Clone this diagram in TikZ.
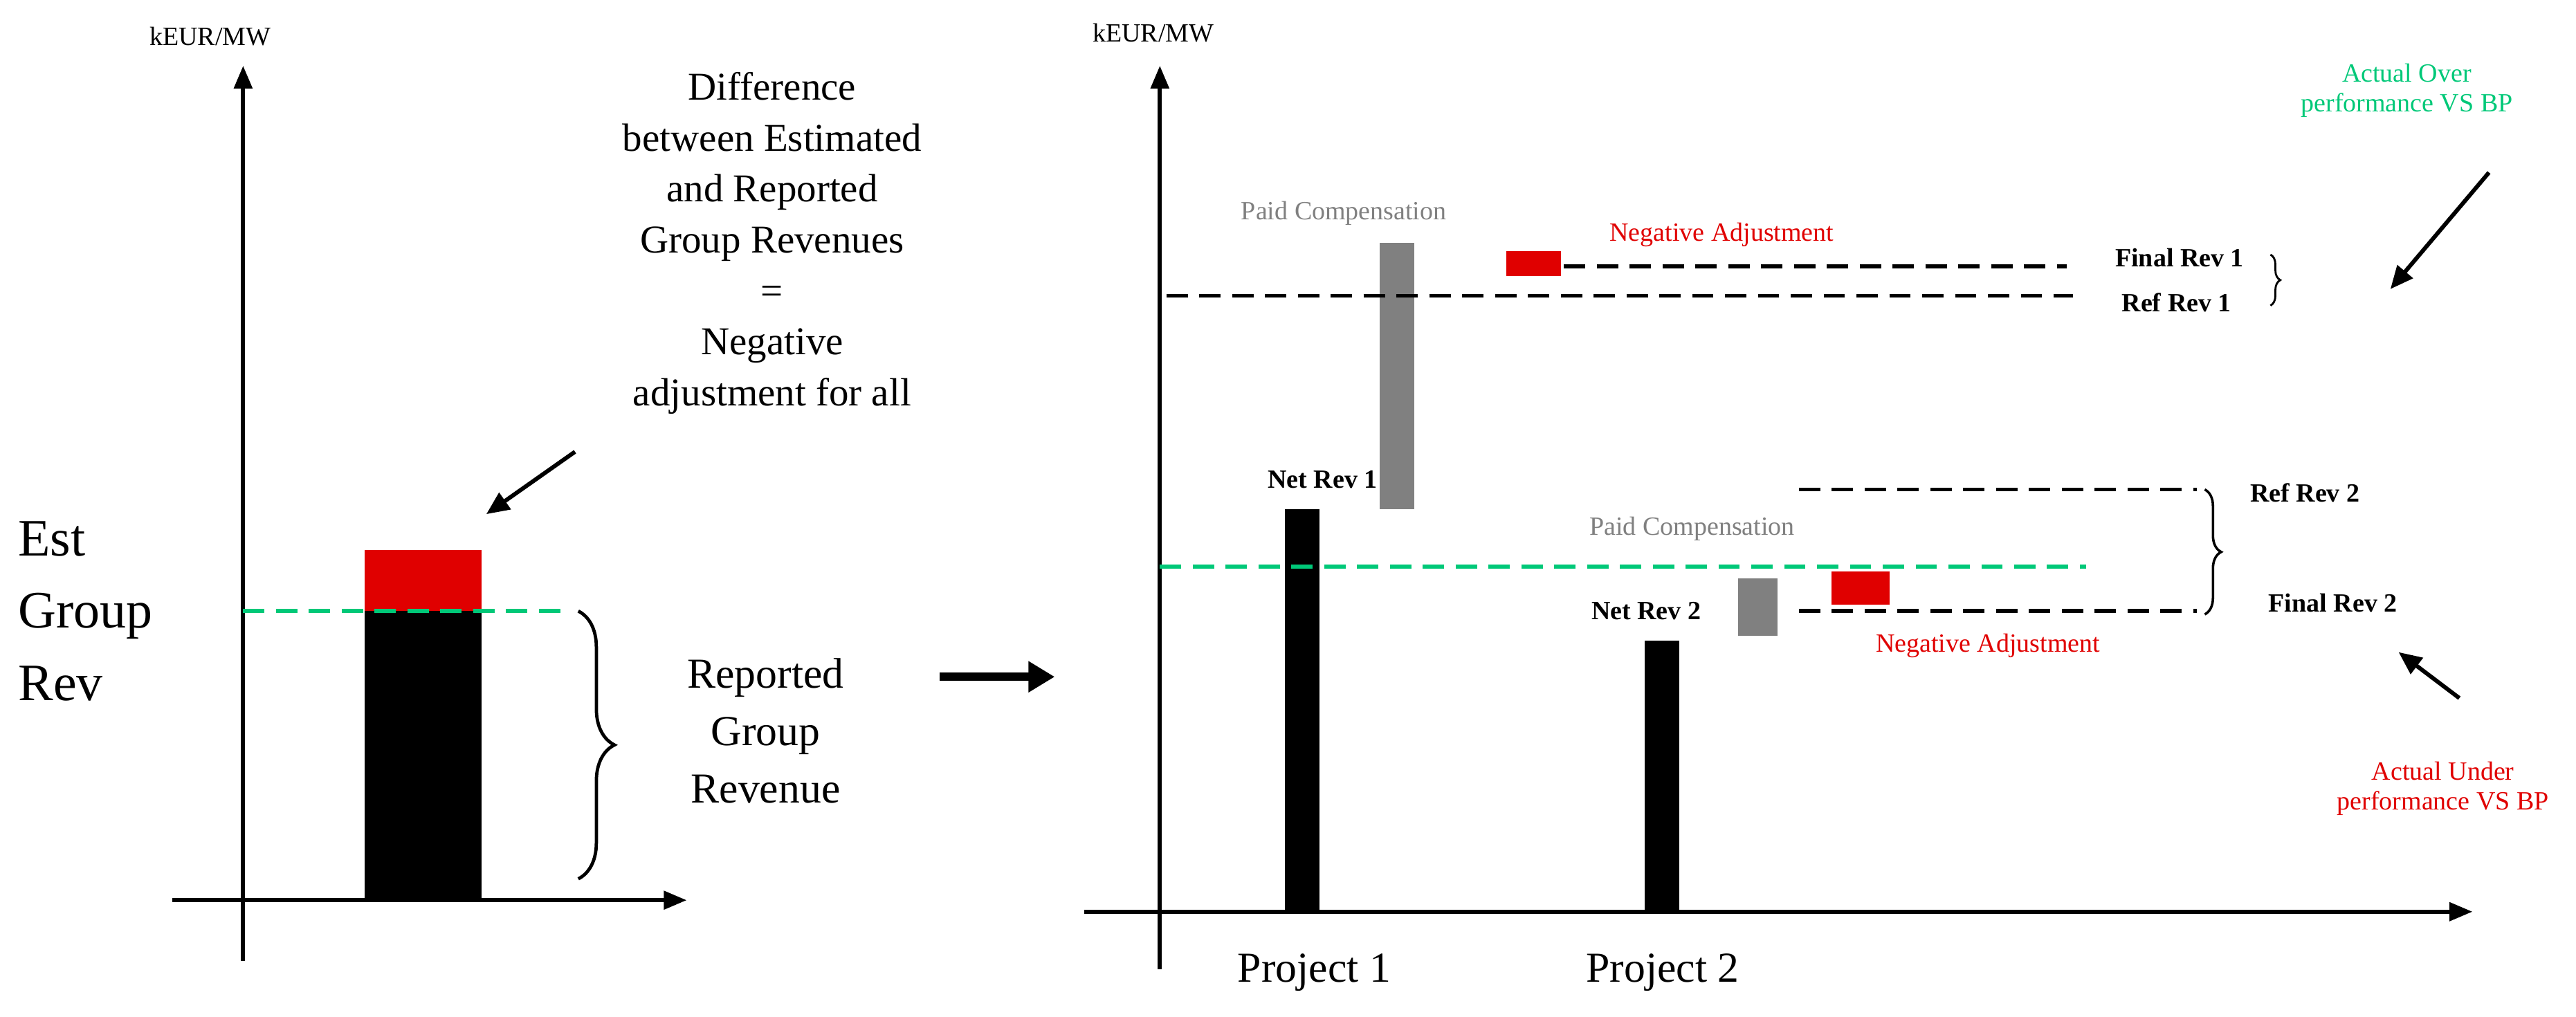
\documentclass[tikz,border=0pt]{standalone}
\usepackage{fontspec}
\setmainfont{Liberation Serif}
\usetikzlibrary{decorations.pathreplacing,arrows.meta}
\definecolor{gr}{HTML}{00C878}
\definecolor{rd}{HTML}{E00000}
\definecolor{gy}{HTML}{808080}
\begin{document}
\begin{tikzpicture}[x=1pt,y=-1pt,
 ax/.style={line width=2.5pt,-{Triangle[length=14pt,width=11pt]}},
 dsh/.style={line width=2.4pt,dash pattern=on 13pt off 7pt},
 sm/.style={font=\fontsize{16}{18}\selectfont},
 bf/.style={font=\fontsize{16}{18}\selectfont\bfseries},
 big/.style={font=\fontsize{26}{35}\selectfont,align=center},
 arr/.style={line width=2.5pt,-{Triangle[length=14pt,width=12pt]}}]
\useasboundingbox (0,0) rectangle (1568,619);
% left chart
\coordinate (ly0) at (148,585); \coordinate (ly1) at (148,40);
\coordinate (lx0) at (105,548); \coordinate (lx1) at (418,548);
\draw[ax] (ly0) -- (ly1); \draw[ax] (lx0) -- (lx1);
\node[sm] (k1) at (128,22) {kEUR/MW};
\fill[black] (222,372) rectangle (293,548);
\fill[rd] (222,335) rectangle (293,372);
\draw[gr,dsh] (148,372) -- (345,372);
\draw[line width=2pt,decorate,decoration={brace,amplitude=22pt}] (352,372) -- (352,535);
\node[big] (rep) at (466,445) {Reported\\Group\\Revenue};
\node[font=\fontsize{32}{44}\selectfont,align=left] (est) at (52,372) {Est\\Group\\Rev};
\node[font=\fontsize{24}{31}\selectfont,align=center] (diff) at (470,148) {Difference\\between Estimated\\and Reported\\Group Revenues\\=\\Negative\\adjustment for all};
\coordinate (a1s) at (350,275); \coordinate (a1e) at (296,313);
\draw[arr] (a1s) -- (a1e);
\coordinate (b1) at (572,412); \coordinate (b2) at (642,412);
\draw[line width=5pt,-{Triangle[length=16pt,width=18pt]}] (b1) -- (b2);
% right chart
\coordinate (ry0) at (706,590); \coordinate (ry1) at (706,40);
\coordinate (rx0) at (660,555); \coordinate (rx1) at (1505,555);
\draw[ax] (ry0) -- (ry1); \draw[ax] (rx0) -- (rx1);
\node[sm] (k2) at (702,20) {kEUR/MW};
\node[font=\fontsize{26}{30}\selectfont] (p1) at (800,592) {Project 1};
\node[font=\fontsize{26}{30}\selectfont] (p2) at (1012,592) {Project 2};
\fill[black] (782,310) rectangle (803,555);
\node[bf] (nr1) at (805,292) {Net Rev 1};
\fill[black] (1001,390) rectangle (1022,555);
\node[bf] (nr2) at (1002,372) {Net Rev 2};
\fill[gy] (840,148) rectangle (861,310);
\node[sm,text=gy] (pc1) at (818,130) {Paid Compensation};
\draw[dsh] (710,180) -- (1262,180);
\draw[dsh] (952,162) -- (1258,162);
\fill[rd] (917,153) rectangle (950,168);
\node[sm,text=rd] (na1) at (1048,143) {Negative Adjustment};
\node[bf,anchor=west] (fr1) at (1284,157) {Final Rev 1};
\node[bf,anchor=west] (rr1) at (1288,184) {Ref Rev 1};
\draw[line width=1.2pt,decorate,decoration={brace,amplitude=6pt}] (1382,155) -- (1382,186);
\node[sm,text=gr,align=center] (ao) at (1465,55) {Actual Over\\performance VS BP};
\coordinate (a2s) at (1515,105); \coordinate (a2e) at (1455,176);
\draw[arr] (a2s) -- (a2e);
\draw[gr,dsh] (706,345) -- (1270,345);
\fill[gy] (1058,352) rectangle (1082,387);
\node[sm,text=gy] (pc2) at (1030,322) {Paid Compensation};
\fill[rd] (1115,348) rectangle (1150,368);
\node[sm,text=rd] (na2) at (1210,393) {Negative Adjustment};
\draw[dsh] (1095,298) -- (1337,298);
\draw[dsh] (1095,372) -- (1337,372);
\draw[line width=1.5pt,decorate,decoration={brace,amplitude=10pt}] (1342,298) -- (1342,374);
\node[bf] (rr2) at (1403,300) {Ref Rev 2};
\node[bf] (fr2) at (1420,367) {Final Rev 2};
\coordinate (a3s) at (1497,425); \coordinate (a3e) at (1460,397);
\draw[arr] (a3s) -- (a3e);
\node[sm,text=rd,align=center] (au) at (1487,480) {Actual Under\\performance VS BP};
\end{tikzpicture}
\end{document}
